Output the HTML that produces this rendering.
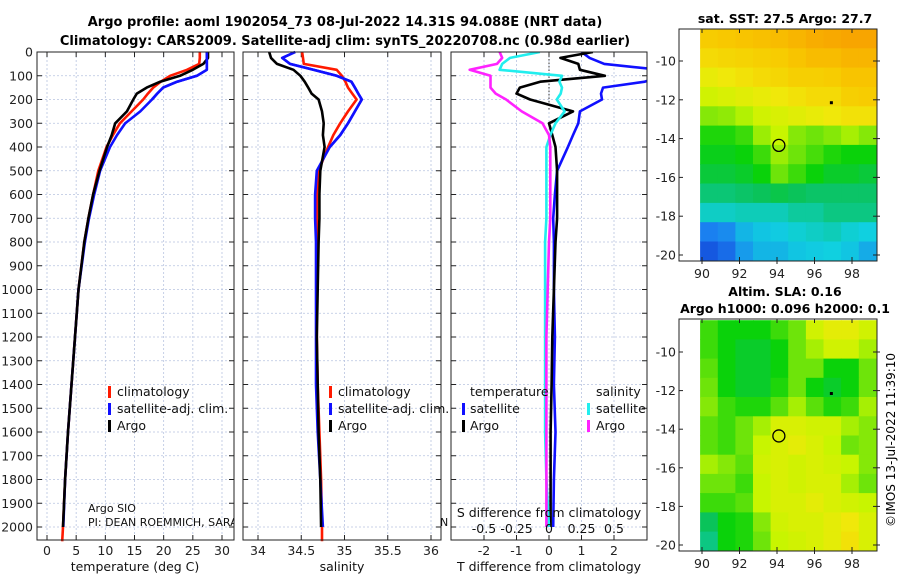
<!DOCTYPE html>
<html><head><meta charset="utf-8">
<style>
html,body{margin:0;padding:0;background:#fff;}
svg{display:block;font-family:"DejaVu Sans","Liberation Sans",sans-serif;}
</style></head>
<body>
<svg id="fig" width="900" height="580" viewBox="0 0 900 580" xmlns="http://www.w3.org/2000/svg">
<defs>
<clipPath id="creditclip"><rect x="0" y="0" width="234" height="580"/></clipPath>
</defs>
<text x="345" y="26" text-anchor="middle" font-size="13" font-weight="bold">Argo profile: aoml 1902054_73 08-Jul-2022 14.31S 94.088E (NRT data)</text>
<text x="345" y="45" text-anchor="middle" font-size="13" font-weight="bold">Climatology: CARS2009. Satellite-adj clim: synTS_20220708.nc (0.98d earlier)</text>
<text x="785" y="23" text-anchor="middle" font-size="12.5" font-weight="bold">sat. SST: 27.5 Argo: 27.7</text>
<text x="785" y="296" text-anchor="middle" font-size="12.5" font-weight="bold">Altim. SLA: 0.16</text>
<text x="785" y="313" text-anchor="middle" font-size="12.5" font-weight="bold">Argo h1000: 0.096 h2000: 0.1</text>
<text transform="translate(895,440) rotate(-90)" text-anchor="middle" font-size="12">©IMOS 13-Jul-2022 11:39:10</text>
<g id="layer"></g>
</svg>
<script>
// ---------- data ----------
const depths = [0,25,50,75,100,125,150,175,200,250,300,350,400,500,600,700,800,1000,1200,1400,1600,1800,2000];
const tempClim = [26.2,26.2,26.1,24.0,21.1,19.5,18.2,17.3,16.5,14.5,12.5,11.3,10.2,8.8,7.9,7.1,6.4,5.4,4.8,4.2,3.6,3.1,2.75];
const tempSat  = [27.4,27.4,27.4,27.4,25.7,22.3,19.9,18.9,18.0,16.0,13.4,12.0,10.8,9.1,8.1,7.2,6.5,5.4,4.8,4.2,3.6,3.1,2.8];
const tempArgo = [27.6,27.6,26.8,25.0,22.8,19.4,17.1,15.4,14.8,13.7,11.7,11.1,10.3,9.0,7.9,7.1,6.4,5.4,4.8,4.2,3.6,3.1,2.75];
const salClim = [34.51,34.52,34.53,34.91,34.97,35.01,35.04,35.09,35.14,35.04,34.95,34.87,34.81,34.70,34.68,34.68,34.68,34.68,34.68,34.69,34.71,34.73,34.74];
const salSat  = [34.43,34.28,34.37,34.64,34.91,35.08,35.12,35.16,35.20,35.12,35.04,34.95,34.83,34.68,34.66,34.66,34.67,34.67,34.67,34.67,34.69,34.72,34.75];
const salArgo = [34.13,34.15,34.22,34.41,34.49,34.54,34.58,34.62,34.70,34.74,34.76,34.75,34.77,34.72,34.71,34.71,34.70,34.69,34.68,34.69,34.70,34.72,34.73];
const dTSat  = [1.0,1.25,1.7,3.4,3.4,2.95,1.66,1.6,1.63,0.95,0.9,0.74,0.58,0.25,0.18,0.13,0.15,0.15,0.18,0.15,0.2,0.15,0.13];
const dTArgo = [1.35,0.35,0.9,0.95,1.72,-0.27,-0.9,-1.0,-0.58,0.74,0.0,0.1,0.2,0.25,0.25,0.25,0.2,0.15,0.1,0.08,0.05,0.05,0.05];
const dSSat  = [-0.07,-0.3,-0.36,-0.38,0.1,0.08,0.1,0.09,0.06,0.12,0.05,0.01,-0.02,-0.02,-0.02,-0.02,-0.03,-0.03,-0.03,-0.03,-0.03,-0.02,0.0];
const dSArgo = [-0.38,-0.36,-0.4,-0.61,-0.45,-0.45,-0.45,-0.41,-0.33,-0.21,-0.05,0.0,0.01,0.01,0.01,0.01,0.0,-0.01,-0.02,-0.02,-0.02,-0.02,-0.02];
const depthTicks = [0,100,200,300,400,500,600,700,800,900,1000,1100,1200,1300,1400,1500,1600,1700,1800,1900,2000];
const tempTicks = [0,5,10,15,20,25,30];
const salTicks = [34,34.5,35,35.5,36];
const dTTicks = [-2,-1,0,1,2];
const dSTicks = [-0.5,-0.25,0,0.25,0.5];
const dSTickLabels = ['-0.5','-0.25','0','0.25','0.5'];
const latTicks = [-10,-12,-14,-16,-18,-20];
const lonTicks = [90,92,94,96,98];
const sstGrid = [
[0.86,0.87,0.88,0.89,0.9,0.92,0.94,0.95,0.96,0.96],
[0.82,0.83,0.84,0.85,0.86,0.88,0.9,0.9,0.92,0.92],
[0.76,0.78,0.8,0.82,0.83,0.85,0.85,0.86,0.88,0.88],
[0.7,0.72,0.74,0.76,0.78,0.8,0.82,0.82,0.85,0.86],
[0.62,0.63,0.66,0.7,0.72,0.74,0.76,0.78,0.8,0.8],
[0.52,0.52,0.55,0.64,0.68,0.62,0.6,0.62,0.65,0.62],
[0.49,0.49,0.5,0.55,0.64,0.6,0.56,0.52,0.5,0.5],
[0.47,0.47,0.48,0.5,0.6,0.55,0.5,0.48,0.48,0.47],
[0.43,0.43,0.44,0.45,0.46,0.45,0.44,0.44,0.44,0.44],
[0.37,0.37,0.38,0.38,0.38,0.4,0.4,0.42,0.42,0.42],
[0.2,0.22,0.3,0.33,0.34,0.36,0.37,0.38,0.36,0.35],
[0.1,0.15,0.25,0.3,0.3,0.33,0.34,0.35,0.33,0.28]];
const slaGrid = [
[0.55,0.5,0.5,0.5,0.55,0.6,0.7,0.75,0.75,0.7],
[0.55,0.5,0.48,0.48,0.5,0.6,0.65,0.7,0.7,0.65],
[0.58,0.5,0.48,0.48,0.5,0.6,0.6,0.5,0.5,0.6],
[0.6,0.5,0.48,0.48,0.52,0.6,0.5,0.48,0.5,0.6],
[0.62,0.55,0.52,0.52,0.58,0.65,0.58,0.52,0.55,0.65],
[0.58,0.55,0.6,0.65,0.72,0.72,0.7,0.7,0.65,0.62],
[0.58,0.55,0.6,0.68,0.72,0.75,0.72,0.68,0.6,0.62],
[0.65,0.62,0.58,0.7,0.72,0.7,0.72,0.7,0.68,0.62],
[0.6,0.6,0.55,0.68,0.72,0.7,0.72,0.72,0.65,0.6],
[0.55,0.55,0.58,0.68,0.72,0.72,0.75,0.72,0.7,0.68],
[0.45,0.5,0.52,0.62,0.7,0.72,0.72,0.75,0.78,0.72],
[0.42,0.5,0.52,0.6,0.68,0.7,0.72,0.75,0.8,0.72]];
const argoPos = [94.1,-14.35];
const otherPos = [96.9,-12.15];

// ---------- helpers ----------
const NS="http://www.w3.org/2000/svg";
const layer=document.getElementById('layer');
function mk(tag,attrs,parent){const e=document.createElementNS(NS,tag);for(const k in attrs)e.setAttribute(k,attrs[k]);(parent||layer).appendChild(e);return e;}
const yD = d => 52 + d*0.2375;
const PT=52, PB=540;
const xT = v => 47 + v*5.833;
const xS = v => 258 + (v-34)*86.5;
const xDT = v => 549 + v*32.5;
const xDS = v => 549 + v*130;

function panel(name,x0,x1,xs,ticks,labels,showDepthLabels){
  const g=mk('g',{});
  
  
  mk('rect',{x:x0,y:PT,width:x1-x0,height:PB-PT,fill:'#fff'},g);
  depthTicks.forEach(d=>{
    const l=mk('line',{x1:x0,x2:x1,y1:yD(d),y2:yD(d),stroke:'#b8c4e0','stroke-width':0.8,'stroke-dasharray':'2,2'},g);
    
    
    mk('line',{x1:x0,x2:x0+5,y1:yD(d),y2:yD(d),stroke:'#222'},g);
    mk('line',{x1:x1-5,x2:x1,y1:yD(d),y2:yD(d),stroke:'#222'},g);
    if(showDepthLabels){
      const t=mk('text',{x:x0-4,y:yD(d)+4.5,'text-anchor':'end','font-size':12.5,fill:'#222'},g);
      t.textContent=d;
      
      
    }
  });
  ticks.forEach((v,i)=>{
    const X=xs(v);
    const l=mk('line',{x1:X,x2:X,y1:PT,y2:PB,stroke:'#b8c4e0','stroke-width':0.8,'stroke-dasharray':'2,2'},g);
    
    
    mk('line',{x1:X,x2:X,y1:PB-5,y2:PB,stroke:'#222'},g);
    mk('line',{x1:X,x2:X,y1:PT,y2:PT+5,stroke:'#222'},g);
    const t=mk('text',{x:X,y:555,'text-anchor':'middle','font-size':12.5,fill:'#222'},g);
    t.textContent=labels[i];
    
    
  });
  return g;
}
function profile(name,arr,xs,color,w,extraDepth){
  const pts=arr.map((v,i)=>xs(v).toFixed(1)+','+yD(i<depths.length?depths[i]:extraDepth).toFixed(1)).join(' ');
  const p=mk('polyline',{points:pts,fill:'none',stroke:color,'stroke-width':w||2.6,'stroke-linejoin':'round'});
  
  
  return p;
}
function frame(x0,x1){mk('rect',{x:x0,y:PT,width:x1-x0,height:PB-PT,fill:'none',stroke:'#222','stroke-width':1});}
function txt(s,x,y,size,name,anchor){
  const t=mk('text',{x:x,y:y,'font-size':size,'text-anchor':anchor||'start',fill:'#111'});
  t.textContent=s;
  
  
  return t;
}
function legendMark(x,y,color,name){
  const r=mk('rect',{x:x,y:y-10,width:3,height:12,fill:color});
  
  
}

// ---------- panel 1: temperature ----------
panel('temperature-panel',37,234,xT,tempTicks,tempTicks,true);
profile('temperature-climatology-line',tempClim.concat([2.6]),xT,'#ff1a00',2.6,2060);
profile('temperature-satellite-line',tempSat,xT,'#1010ff');
profile('temperature-argo-line',tempArgo,xT,'#000');
profile('temperature-satellite-line-top',tempSat.slice(0,9),xT,'#1010ff');
frame(37,234);
txt('temperature (deg C)',135,571,12.5,'temperature-axis-title','middle');
legendMark(108,396,'#ff1a00','legend-climatology-marker'); txt('climatology',117,396,12.5,'legend-climatology-label');
legendMark(108,413,'#1010ff','legend-satellite-marker'); txt('satellite-adj. clim.',117,413,12.5,'legend-satellite-label');
legendMark(108,430,'#000','legend-argo-marker'); txt('Argo',117,430,12.5,'legend-argo-label');
const c1=txt('Argo SIO',88,512,11,'credit-argo-sio'); c1.setAttribute('clip-path','url(#creditclip)');
const c2=txt('PI: DEAN ROEMMICH, SARAH PURKEY, JOHN GILSON',88,526,11,'credit-pi'); c2.setAttribute('clip-path','url(#creditclip)');

// ---------- panel 2: salinity ----------
panel('salinity-panel',243,441,xS,salTicks,salTicks,false);
profile('salinity-climatology-line',salClim.concat([34.74]),xS,'#ff1a00',2.6,2060);
profile('salinity-satellite-line',salSat,xS,'#1010ff');
profile('salinity-argo-line',salArgo,xS,'#000');
profile('salinity-satellite-line-top',salSat.slice(0,13),xS,'#1010ff');
frame(243,441);
txt('salinity',342,571,12.5,'salinity-axis-title','middle');
legendMark(329,396,'#ff1a00','legend2-climatology-marker'); txt('climatology',338,396,12.5,'legend2-climatology-label');
legendMark(329,413,'#1010ff','legend2-satellite-marker'); txt('satellite-adj. clim.',338,413,12.5,'legend2-satellite-label');
legendMark(329,430,'#000','legend2-argo-marker'); txt('Argo',338,430,12.5,'legend2-argo-label');
txt('N',440,526,11,'credit-overflow');

// ---------- panel 3: differences ----------
panel('difference-panel',451,647,xDT,dTTicks,dTTicks,false);
mk('line',{x1:549,x2:549,y1:PT,y2:110,stroke:'#333','stroke-width':1,'stroke-dasharray':'1.5,2'});
const cp=mk('clipPath',{id:'c3'});
mk('rect',{x:451,y:PT,width:196,height:PB-PT},cp);
[
 ['diff-temperature-satellite-line',dTSat,xDT,'#1010ff'],
 ['diff-temperature-argo-line',dTArgo,xDT,'#000'],
 ['diff-salinity-satellite-line',dSSat,xDS,'#22eeee'],
 ['diff-salinity-argo-line',dSArgo,xDS,'#ff22ff']
].forEach(a=>{const p=profile(a[0],a[1],a[2],a[3]);p.setAttribute('clip-path','url(#c3)');});
frame(451,647);
txt('T difference from climatology',549,571,12.5,'t-diff-axis-title','middle');
txt('S difference from climatology',549,517,12.5,'s-diff-axis-title','middle');
dSTicks.forEach((v,i)=>{txt(dSTickLabels[i],xDS(v),533,12.5,'s-diff-tick-label','middle');});
txt('temperature',470,396,12.5,'legend3-temperature-header');
txt('salinity',596,396,12.5,'legend3-salinity-header');
legendMark(462,413,'#1010ff','legend3-t-satellite-marker'); txt('satellite',470,413,12.5,'legend3-t-satellite-label');
legendMark(462,430,'#000','legend3-t-argo-marker'); txt('Argo',470,430,12.5,'legend3-t-argo-label');
legendMark(587,413,'#22eeee','legend3-s-satellite-marker'); txt('satellite',596,413,12.5,'legend3-s-satellite-label');
legendMark(587,430,'#ff22ff','legend3-s-argo-marker'); txt('Argo',596,430,12.5,'legend3-s-argo-label');

// ---------- maps ----------
const cstops=[[0,[16,48,208]],[0.2,[26,128,240]],[0.35,[16,208,224]],[0.45,[10,195,90]],[0.5,[10,210,10]],[0.6,[110,228,10]],[0.68,[200,245,0]],[0.78,[240,232,10]],[0.87,[248,200,0]],[1,[248,150,0]]];
function cmap(v){for(let i=1;i<cstops.length;i++){if(v<=cstops[i][0]){const a=cstops[i-1],b=cstops[i];const t=(v-a[0])/(b[0]-a[0]);return 'rgb('+a[1].map((c,k)=>Math.round(c+(b[1][k]-c)*t)).join(',')+')';}}return 'rgb(248,150,0)';}
function drawMap(name,grid,top,bottom,latAt10,latAt20){
  const L=679,R=877;
  const lonX=lon=>702+(lon-90)*18.75;
  const latY=lat=>latAt10+(-10-lat)*(latAt20-latAt10)/10;
  const g=mk('g',{});
  
  
  const rows=grid.length, cols=grid[0].length;
  const lon0=89.9, lon1=99.3, lat0=-8.35, lat1=-20.3;
  grid.forEach((row,r)=>row.forEach((v,c)=>{
    const x=lonX(lon0+(lon1-lon0)*c/cols), x2=lonX(lon0+(lon1-lon0)*(c+1)/cols);
    const y=latY(lat0+(lat1-lat0)*r/rows), y2=latY(lat0+(lat1-lat0)*(r+1)/rows);
    const cell=mk('rect',{x:x.toFixed(1),y:y.toFixed(1),width:(x2-x+0.6).toFixed(1),height:(y2-y+0.6).toFixed(1),fill:cmap(v)},g);
    
    
  }));
  mk('rect',{x:L,y:top,width:R-L,height:bottom-top,fill:'none',stroke:'#222'},g);
  latTicks.forEach(lat=>{
    const Y=latY(lat);
    mk('line',{x1:L,x2:L+4,y1:Y,y2:Y,stroke:'#222'},g);
    mk('line',{x1:R-4,x2:R+3,y1:Y,y2:Y,stroke:'#222'},g);
    const t=mk('text',{x:L-3,y:Y+4.5,'text-anchor':'end','font-size':12.5,fill:'#222'},g);
    t.textContent=lat;
    
    
  });
  lonTicks.forEach(lon=>{
    const X=lonX(lon);
    mk('line',{x1:X,x2:X,y1:bottom-4,y2:bottom+3,stroke:'#222'},g);
    mk('line',{x1:X,x2:X,y1:top,y2:top+4,stroke:'#222'},g);
    const t=mk('text',{x:X,y:bottom+17,'text-anchor':'middle','font-size':12.5,fill:'#222'},g);
    t.textContent=lon;
    
    
  });
  const c=mk('circle',{cx:lonX(argoPos[0]),cy:latY(argoPos[1]),r:6,fill:'none',stroke:'#000','stroke-width':1.3},g);
  
  
  const d=mk('rect',{x:lonX(otherPos[0])-1.5,y:latY(otherPos[1])-1.5,width:3,height:3,fill:'#000'},g);
  
  
}
drawMap('sst-map',sstGrid,29,261,61,255);
drawMap('sla-map',slaGrid,319,551,352,545);
</script>
</body></html>
